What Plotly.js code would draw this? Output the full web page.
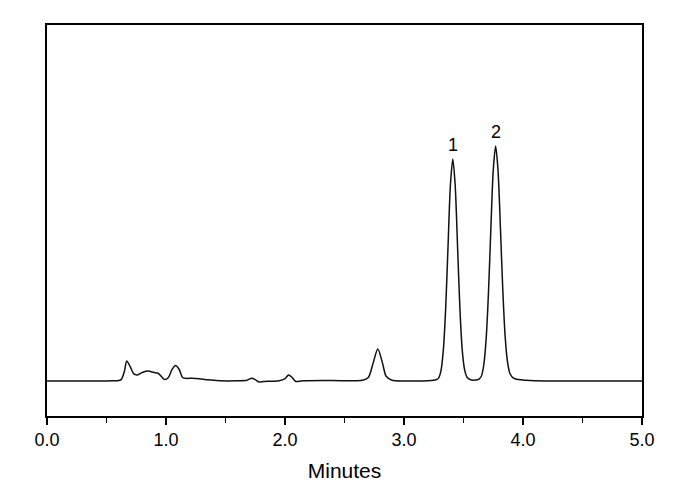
<!DOCTYPE html>
<html><head><meta charset="utf-8">
<script src="https://cdn.plot.ly/plotly-3.0.1.min.js"></script>
<style>html,body{margin:0;padding:0;background:#fff}</style>
</head><body>
<div id="chart" style="width:690px;height:490px"></div>
<script>
const time = [0.00,0.30,0.55,0.62,0.65,0.67,0.70,0.73,0.76,0.80,0.85,0.90,0.93,0.96,0.99,1.02,1.05,1.08,1.11,1.14,1.17,1.22,1.28,1.35,1.45,1.60,1.68,1.72,1.75,1.78,1.82,1.95,2.00,2.03,2.06,2.09,2.15,2.40,2.55,2.65,2.70,2.74,2.78,2.82,2.85,2.90,3.00,3.20,3.27,3.29,3.31,3.33,3.35,3.37,3.39,3.41,3.43,3.45,3.47,3.49,3.51,3.53,3.56,3.60,3.63,3.65,3.67,3.69,3.71,3.73,3.75,3.77,3.79,3.81,3.83,3.85,3.87,3.89,3.92,3.96,4.02,4.10,4.40,5.00];
const signal = [0,0,0.1,0.5,4,8.5,6,3,2.6,3.6,4.2,3.6,3.4,2.0,0.6,1.5,4.8,6.6,5,1.5,1.1,1.2,1.0,0.5,0.1,0.1,0.3,1.2,0.6,-0.4,-0.2,0.1,1.0,2.6,1.5,-0.2,0.1,0.2,0.1,0.3,1.5,7.5,13.6,7.5,2.0,0.3,0,0.1,0.5,1.2,4.2,12.8,30.7,57.3,83.4,94.5,83.4,57.3,30.7,12.8,4.6,1.6,0.5,0.4,0.8,2.0,6.7,17.7,37.8,64.9,89.7,100,89.7,65.5,39,19,8,3.2,1.2,0.6,0.3,0.1,0,0];
const peakLabels = ["1","2"];
const peakTimes = [3.41,3.77];
const peakHeights = [94.5,100];
const xTickVals = [0,1,2,3,4,5];
const xTickText = ["0.0","1.0","2.0","3.0","4.0","5.0"];

const trace = {x: time, y: signal, type:'scatter', mode:'lines',
  line:{color:'#111', width:1.5, shape:'spline', smoothing:0.8}, hoverinfo:'skip'};
const layout = {
  width:690, height:490,
  margin:{l:47, r:48, t:25, b:74},
  paper_bgcolor:'#fff', plot_bgcolor:'#fff',
  showlegend:false,
  font:{family:'Liberation Sans, Arial, sans-serif', color:'#000'},
  xaxis:{range:[0,5], showgrid:false, zeroline:false, showline:true, mirror:true,
    linecolor:'#000', linewidth:1.8, ticks:'outside', ticklen:7, tickwidth:1.8, tickcolor:'#000',
    tickvals:xTickVals, ticktext:xTickText, tickfont:{size:18},
    minor:{dtick:0.5, ticks:'outside', ticklen:5, tickwidth:1.8, tickcolor:'#000', showgrid:false},
    title:{text:'Minutes', font:{size:21}, standoff:14}},
  yaxis:{range:[-14.9,151.5], showgrid:false, zeroline:false, showline:true, mirror:true,
    linecolor:'#000', linewidth:1.8, ticks:'', showticklabels:false},
  annotations: peakLabels.map((t,i)=>({x:peakTimes[i], y:peakHeights[i], text:t, showarrow:false,
    yanchor:'bottom', yshift:2, font:{size:18, color:'#000'}}))
};
Plotly.newPlot('chart',[trace],layout,{staticPlot:true});
</script>
</body></html>
